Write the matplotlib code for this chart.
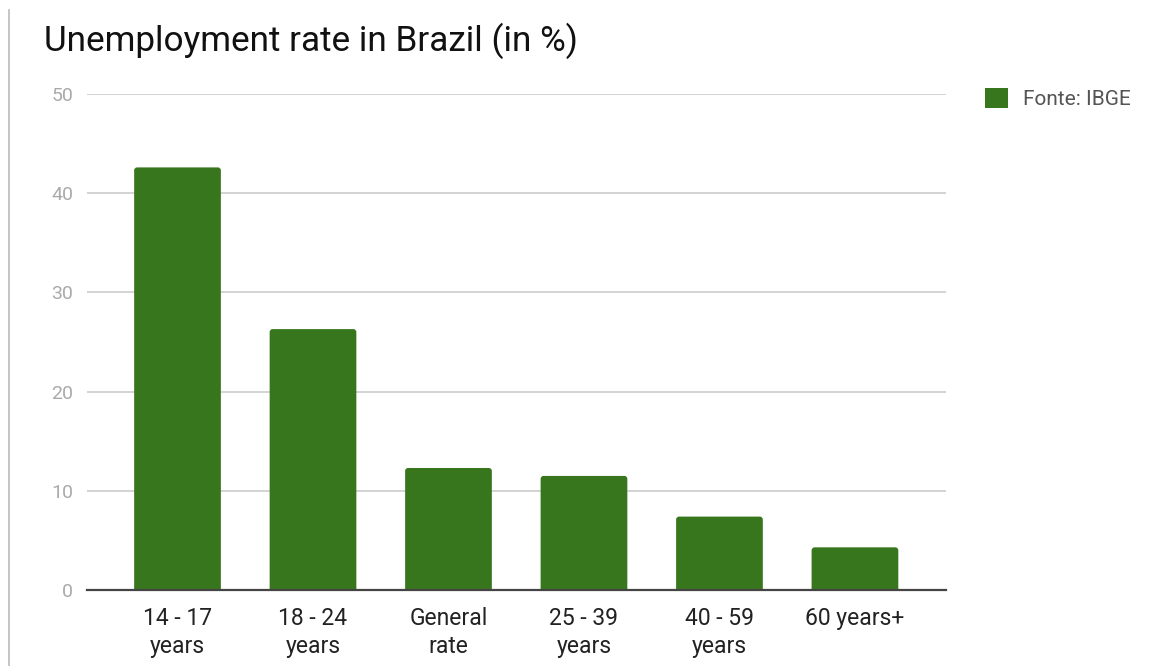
import matplotlib
matplotlib.use("Agg")
import matplotlib.pyplot as plt
from matplotlib.patches import FancyBboxPatch, Patch
from matplotlib.lines import Line2D

plt.rcParams['font.family'] = ['Roboto', 'DejaVu Sans']

# Unemployment by age group (IBGE)
categories = ["14 - 17\nyears", "18 - 24\nyears", "General\nrate",
              "25 - 39\nyears", "40 - 59\nyears", "60 years+"]
rates = [42.6, 26.3, 12.3, 11.5, 7.4, 4.3]
yticks = [0, 10, 20, 30, 40, 50]
series_label = "Fonte: IBGE"
bar_color = "#38761d"

W, H = 1161, 666
fig = plt.figure(figsize=(W / 100, H / 100), dpi=100)
ax = fig.add_axes([87 / W, (H - 590) / H, (946 - 87) / W, (590 - 94) / H])

x = list(range(len(categories)))
bars = ax.bar(x, rates, width=0.64, color=bar_color, label=series_label)

ax.set_xlim(-0.668, 5.672)
ax.set_ylim(0, 50)

# swap plain rectangles for slightly rounded ones
px_x = (946 - 87) / (5.672 + 0.668)
px_y = (590 - 94) / 50
r_px = 3.0
for rect in bars.patches:
    rect.set_visible(False)
    fb = FancyBboxPatch((rect.get_x(), -0.5), rect.get_width(), rect.get_height() + 0.5,
                        boxstyle=f"round,pad=0,rounding_size={r_px / px_x}",
                        mutation_aspect=px_x / px_y,
                        facecolor=bar_color, edgecolor="none", zorder=2)
    ax.add_patch(fb)

ax.set_yticks(yticks)
ax.set_xticks(x)
ax.set_xticklabels(categories, fontsize=16.5, color="#222222", linespacing=1.3)
ax.tick_params(axis="x", length=0, pad=12)
ax.tick_params(axis="y", length=0, pad=10, labelsize=14, labelcolor="#aaaaaa")

ax.yaxis.grid(True, color="#cccccc", linewidth=1.2)
ax.set_axisbelow(True)
for s in ax.spines.values():
    s.set_visible(False)
ax.axhline(0, color="#444444", linewidth=1.6, zorder=3, clip_on=False)

fig.text(44 / W, (H - 51) / H, "Unemployment rate in Brazil (in %)",
         fontsize=25.3, color="#111111", ha="left", va="baseline")

handle = Patch(facecolor=bar_color, edgecolor="none")
fig.legend([handle], [series_label], loc="upper left",
           bbox_to_anchor=(977 / W, (H - 80) / H), frameon=False,
           fontsize=15, labelcolor="#555555", handlelength=1.1, handleheight=1.1,
           handletextpad=0.7, borderaxespad=0)

fig.add_artist(Line2D([8.5 / W, 8.5 / W], [0, (H - 10) / H], color="#bbbbbb",
                      linewidth=1.2, transform=fig.transFigure))

fig.savefig("out.png", dpi=100, facecolor="white")
